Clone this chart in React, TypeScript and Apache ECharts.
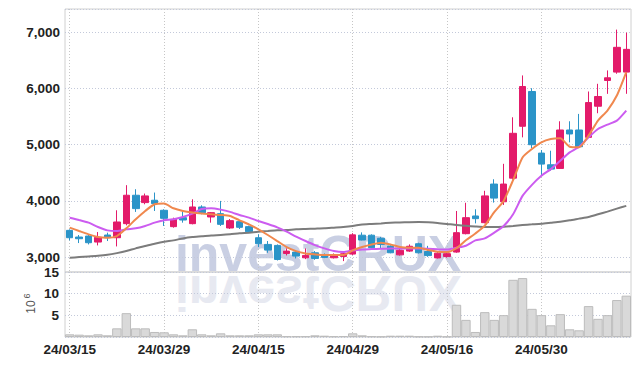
import React, { useEffect, useRef } from "react";
import * as echarts from "echarts";

const dates = [
  "24/03/15", "24/03/18", "24/03/19", "24/03/20", "24/03/21", "24/03/22", "24/03/25", "24/03/26", "24/03/27", "24/03/28",
  "24/03/29", "24/04/01", "24/04/02", "24/04/03", "24/04/04", "24/04/05", "24/04/08", "24/04/09", "24/04/11", "24/04/12",
  "24/04/15", "24/04/16", "24/04/17", "24/04/18", "24/04/19", "24/04/22", "24/04/23", "24/04/24", "24/04/25", "24/04/26",
  "24/04/29", "24/04/30", "24/05/02", "24/05/03", "24/05/07", "24/05/08", "24/05/09", "24/05/10", "24/05/13", "24/05/14",
  "24/05/16", "24/05/17", "24/05/20", "24/05/21", "24/05/22", "24/05/23", "24/05/24", "24/05/27", "24/05/28", "24/05/29",
  "24/05/30", "24/05/31", "24/06/03", "24/06/04", "24/06/05", "24/06/07", "24/06/10", "24/06/11", "24/06/12", "24/06/13",
];

const opens = [
  3476, 3357, 3375, 3268, 3393, 3345, 3595, 4101, 3970, 4012,
  3833, 3542, 3702, 3595, 3892, 3714, 3773, 3518, 3631, 3542,
  3345, 3226, 3208, 3065, 3089, 2988, 3077, 3030, 2988, 3012,
  3054, 3390, 3390, 3336, 3196, 3040, 3107, 3238, 3100, 2986,
  3010, 3090, 3417, 3732, 3613, 4300, 3985, 4405, 5328, 5947,
  4851, 4643, 4578, 5262, 5262, 5131, 5685, 6143, 6292, 6292,
];
const closes = [
  3345, 3327, 3256, 3351, 3345, 3625, 4101, 3863, 4089, 3952,
  3690, 3672, 3660, 3892, 3791, 3791, 3583, 3649, 3530, 3452,
  3238, 3125, 2958, 3107, 3018, 3030, 2976, 2994, 3042, 3060,
  3396, 3304, 3167, 3226, 3077, 3122, 3193, 3077, 3027, 3070,
  3060, 3435, 3702, 3684, 4089, 4050, 4300, 5203, 6036, 5000,
  4655, 4566, 5262, 5191, 4964, 5750, 5858, 6191, 6733, 6697,
];
const lows = [
  3298, 3250, 3226, 3208, 3286, 3190, 3565, 3804, 3940, 3821,
  3554, 3524, 3613, 3583, 3762, 3613, 3554, 3500, 3500, 3428,
  3179, 3077, 2940, 3030, 2976, 2964, 2952, 2982, 2976, 2929,
  3036, 3298, 3155, 3146, 3068, 3027, 3092, 3065, 3005, 2976,
  2990, 3077, 3405, 3600, 3601, 3970, 3928, 4380, 5131, 4941,
  4447, 4536, 4570, 5042, 4940, 5120, 5560, 5905, 6263, 5906,
];
const highs = [
  3494, 3393, 3393, 3446, 3435, 3833, 4280, 4208, 4131, 4149,
  3851, 3702, 3821, 4029, 3922, 3800, 4000, 3678, 3660, 3560,
  3405, 3286, 3226, 3155, 3107, 3155, 3107, 3065, 3065, 3077,
  3426, 3440, 3405, 3360, 3210, 3160, 3226, 3256, 3200, 3090,
  3090, 3821, 3967, 3851, 4180, 4385, 4660, 5488, 6233, 6006,
  4905, 4893, 5417, 5417, 5548, 5947, 6084, 6322, 7048, 6995,
];

const volumes = [
  0.62, 0.54, 0.39, 0.62, 0.39, 2.0, 5.5, 2.0, 2.0, 1.16,
  1.09, 0.62, 0.39, 1.78, 0.62, 0.39, 0.85, 0.39, 0.39, 0.39,
  0.62, 0.62, 0.62, 0.16, 0.16, 0.16, 0.39, 0.3, 0.15, 0.2,
  0.85, 0.39, 0.15, 0.1, 0.3, 0.3, 0.3, 0.12, 0.1, 0.3,
  0.1, 7.44, 3.95, 1.16, 5.74, 3.95, 5.04, 13.2, 13.6, 6.5,
  5.04, 2.7, 5.27, 1.78, 1.55, 7.13, 4.19, 5.04, 8.53, 9.54,
];

const maShort = [
  3524, 3464, 3405, 3357, 3345, 3375, 3512, 3673, 3821, 3940,
  3952, 3869, 3821, 3792, 3774, 3762, 3750, 3732, 3655, 3583,
  3494, 3393, 3286, 3179, 3107, 3065, 3048, 3036, 3036, 3036,
  3119, 3179, 3226, 3256, 3226, 3179, 3167, 3167, 3125, 3095,
  3089, 3160, 3300, 3420, 3560, 3800, 4000, 4370, 4774, 4923,
  5042, 5101, 5113, 4964, 4953, 5161, 5429, 5608, 5875, 6292,
];
const maMid = [
  3702, 3661, 3613, 3536, 3476, 3464, 3494, 3512, 3554, 3613,
  3655, 3673, 3714, 3774, 3855, 3870, 3845, 3805, 3750, 3702,
  3643, 3589, 3530, 3452, 3363, 3286, 3214, 3155, 3107, 3089,
  3119, 3137, 3143, 3149, 3155, 3155, 3155, 3155, 3150, 3140,
  3135, 3167, 3202, 3298, 3333, 3435, 3554, 3762, 4089, 4286,
  4447, 4566, 4715, 4863, 4964, 5131, 5280, 5357, 5429, 5608,
];
const maLong = [
  2988, 3000, 3012, 3024, 3042, 3071, 3107, 3155, 3196, 3238,
  3274, 3298, 3333, 3357, 3370, 3385, 3393, 3405, 3423, 3435,
  3452, 3464, 3476, 3482, 3494, 3500, 3506, 3512, 3524, 3536,
  3554, 3580, 3590, 3600, 3610, 3617, 3622, 3625, 3620, 3608,
  3590, 3570, 3557, 3545, 3536, 3536, 3542, 3554, 3571, 3583,
  3595, 3613, 3631, 3655, 3685, 3714, 3762, 3810, 3863, 3911,
];

const UP = "#e31b6a";
const DOWN = "#2b94c8";
const FONT = "'Liberation Sans', Arial, sans-serif";

export default function App() {
  const ref = useRef<HTMLDivElement>(null);
  useEffect(() => {
    const chart = echarts.init(ref.current!, null, { renderer: "svg" });
    const hDot = { color: "#c3c9da", type: [1, 2] as number[], width: 1 };
    const vDot = { color: "#c6c6c6", type: [1, 2] as number[], width: 1 };
    const labelStyle = { fontFamily: FONT, fontSize: 13.5, fontWeight: "bold" as const, color: "#222" };
    chart.setOption({
      animation: false,
      grid: [
        { left: 65, right: 8, top: 9, height: 263, show: true, borderColor: "#d0d0d0", borderWidth: 1 },
        { left: 65, right: 8, top: 272, height: 65, show: true, borderColor: "#d0d0d0", borderWidth: 1 },
      ],
      graphic: [
        {
          type: "text", x: 318, y: 254, z: -10, silent: true,
          style: { text: "investCRUX", font: "bold 50px 'Liberation Sans'", fill: "#c9cfe3", textAlign: "center", textVerticalAlign: "middle" },
        },
        {
          type: "text", x: 318, y: 293, scaleY: -1, z: -10, silent: true,
          style: { text: "investCRUX", font: "bold 50px 'Liberation Sans'", fill: "#e7e9f1", textAlign: "center", textVerticalAlign: "middle" },
        },
        {
          type: "text", x: 31, y: 307, rotation: Math.PI / 2, silent: true,
          style: { text: "10", font: "12px 'Liberation Sans'", fill: "#555", textAlign: "center", textVerticalAlign: "middle" },
        },
        {
          type: "text", x: 27, y: 296, rotation: Math.PI / 2, silent: true,
          style: { text: "6", font: "9px 'Liberation Sans'", fill: "#555", textAlign: "center", textVerticalAlign: "middle" },
        },
      ],
      xAxis: [
        {
          type: "category", gridIndex: 0, data: dates, boundaryGap: true,
          axisLine: { show: false }, axisTick: { show: false }, axisLabel: { show: false },
          splitLine: { show: true, interval: 9, alignWithLabel: true, lineStyle: vDot },
        },
        {
          type: "category", gridIndex: 1, data: dates, boundaryGap: true,
          axisLine: { show: false }, axisTick: { show: false },
          axisLabel: { interval: 9, margin: 5, ...labelStyle },
          splitLine: { show: true, interval: 9, alignWithLabel: true, lineStyle: vDot },
        },
      ],
      yAxis: [
        {
          type: "value", gridIndex: 0, min: 2735, max: 7415, splitNumber: 5, scale: true,
          axisLine: { show: false }, axisTick: { show: false },
          axisLabel: {
            showMinLabel: false, showMaxLabel: false, margin: 5, ...labelStyle,
            formatter: (v: number) => v.toLocaleString("en-US"),
          },
          splitLine: { show: true, lineStyle: hDot },
        },
        {
          type: "value", gridIndex: 1, min: 0, max: 15, interval: 5,
          axisLine: { show: false }, axisTick: { show: false },
          axisLabel: { showMinLabel: false, margin: 6, ...labelStyle },
          splitLine: { show: true, lineStyle: hDot },
        },
      ],
      series: [
        {
          type: "bar", xAxisIndex: 1, yAxisIndex: 1, data: volumes, barWidth: "100%",
          itemStyle: { color: "#d9d9d9", borderColor: "#bcbcbc", borderWidth: 1 },
        },
        {
          type: "candlestick", xAxisIndex: 0, yAxisIndex: 0, barWidth: 7,
          data: dates.map((_, i) => [opens[i], closes[i], lows[i], highs[i]]),
          itemStyle: { color: UP, color0: DOWN, borderColor: UP, borderColor0: DOWN, borderWidth: 1 },
        },
        {
          type: "line", xAxisIndex: 0, yAxisIndex: 0, data: maLong, symbol: "none", smooth: 0.2,
          lineStyle: { color: "#7c7c7c", width: 2 },
        },
        {
          type: "line", xAxisIndex: 0, yAxisIndex: 0, data: maMid, symbol: "none", smooth: 0.2,
          lineStyle: { color: "#cc5cf0", width: 2 },
        },
        {
          type: "line", xAxisIndex: 0, yAxisIndex: 0, data: maShort, symbol: "none", smooth: 0.2,
          lineStyle: { color: "#f0884e", width: 2 },
        },
      ],
    });
    return () => chart.dispose();
  }, []);
  return <div ref={ref} style={{ position: "absolute", left: 0, top: 0, width: 639, height: 366 }} />;
}
